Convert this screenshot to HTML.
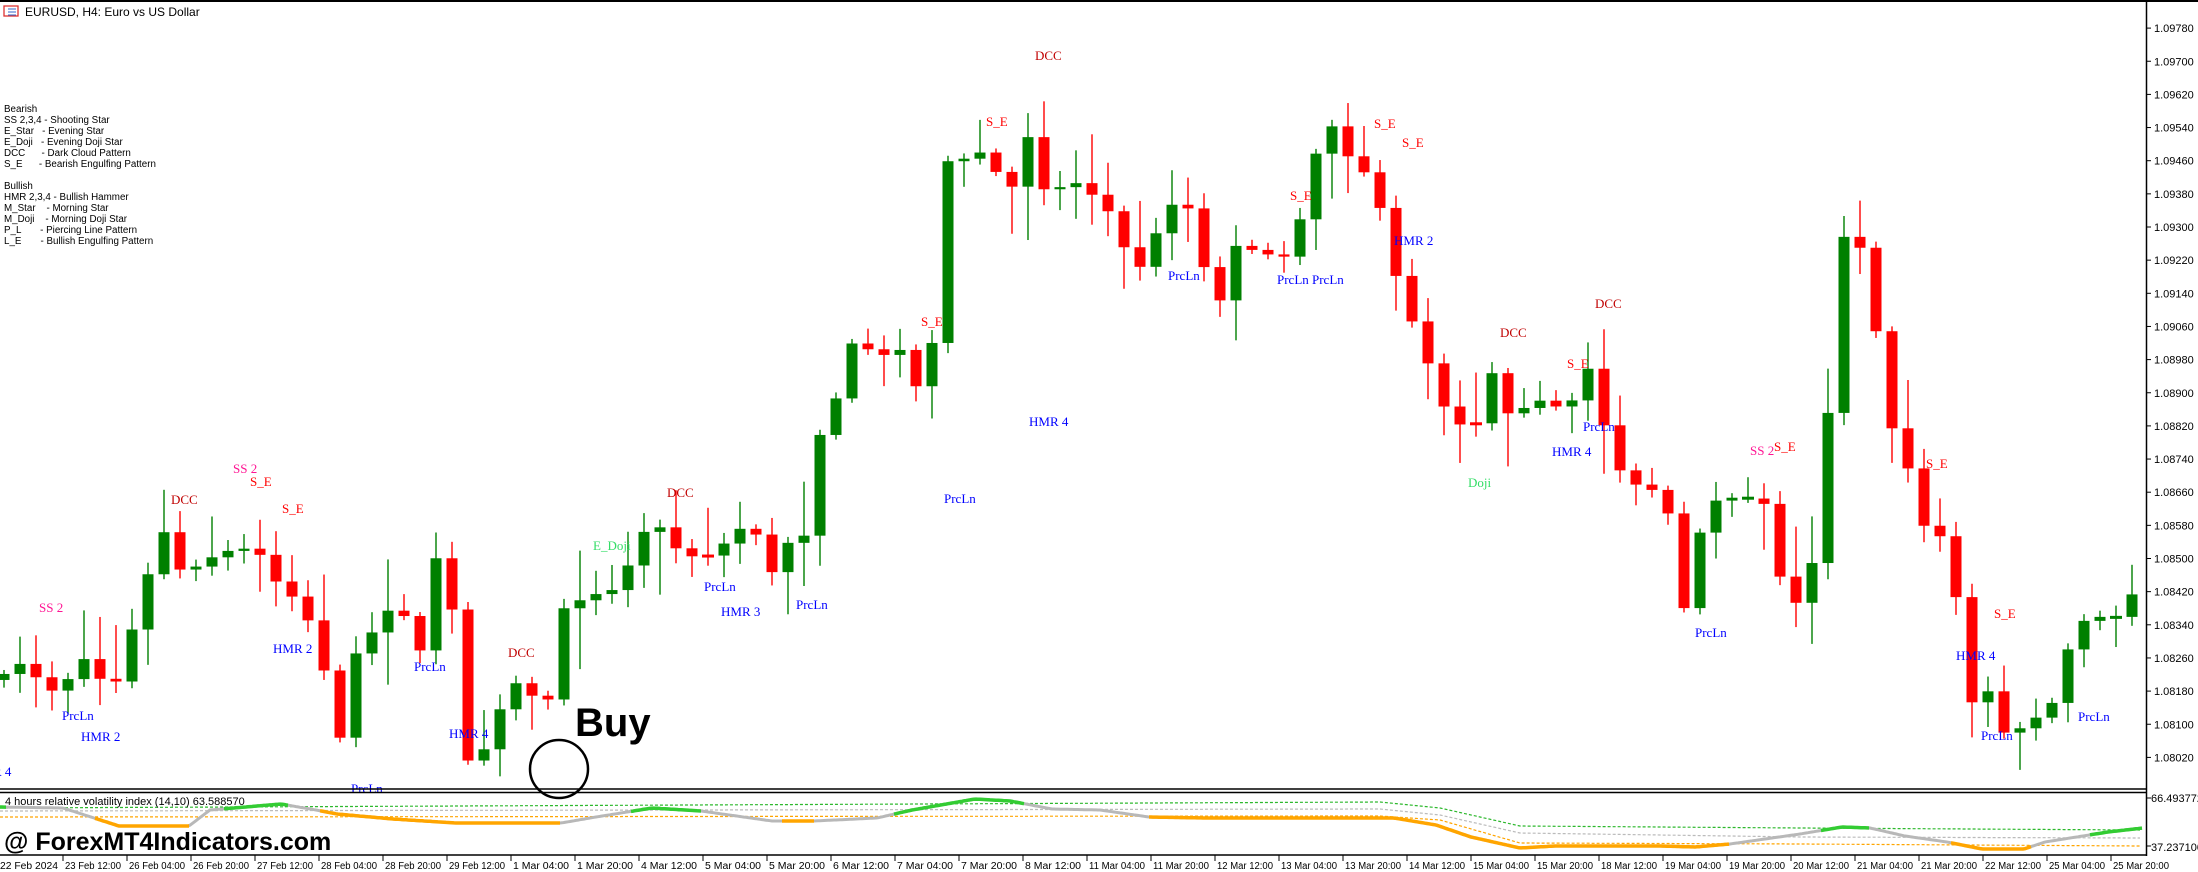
<!DOCTYPE html>
<html><head><meta charset="utf-8"><style>
html,body{margin:0;padding:0;background:#fff;width:2198px;height:872px;overflow:hidden}
svg{display:block}
text{font-family:"Liberation Sans",sans-serif}
#ann text{font-family:"Liberation Serif",serif}
</style></head><body>
<svg id="s" width="2198" height="872" xmlns="http://www.w3.org/2000/svg">
<rect width="2198" height="872" fill="#fff"/>
<line x1="0" y1="1" x2="2198" y2="1" stroke="#000" stroke-width="2"/>
<g id="cand"></g>
<g id="sub"></g>
<g id="ann" font-size="13"></g>
<line x1="2146.5" y1="0" x2="2146.5" y2="856" stroke="#000" stroke-width="1.5"/>
<line x1="0" y1="789" x2="2147" y2="789" stroke="#000" stroke-width="1.5"/>
<line x1="0" y1="792.5" x2="2147" y2="792.5" stroke="#000" stroke-width="1.5"/>
<line x1="0" y1="855" x2="2147" y2="855" stroke="#000" stroke-width="1.5"/>
<g id="axis" fill="#000"></g>
<rect x="4" y="6" width="14" height="10" fill="#fff" stroke="#d33" stroke-width="1.3"/>
<line x1="8" y1="9" x2="16" y2="9" stroke="#36c"/><line x1="8" y1="12" x2="16" y2="12" stroke="#36c"/><line x1="8" y1="15" x2="16" y2="15" stroke="#36c"/>
<text x="25" y="16" font-size="12">EURUSD, H4:  Euro vs US Dollar</text>
<g font-size="9.8">
<text x="4" y="112">Bearish</text>
<text x="4" y="123">SS 2,3,4 - Shooting Star</text>
<text x="4" y="134" xml:space="preserve">E_Star   - Evening Star</text>
<text x="4" y="145" xml:space="preserve">E_Doji   - Evening Doji Star</text>
<text x="4" y="156" xml:space="preserve">DCC      - Dark Cloud Pattern</text>
<text x="4" y="167" xml:space="preserve">S_E      - Bearish Engulfing Pattern</text>
<text x="4" y="189">Bullish</text>
<text x="4" y="200">HMR 2,3,4 - Bullish Hammer</text>
<text x="4" y="211" xml:space="preserve">M_Star    - Morning Star</text>
<text x="4" y="222" xml:space="preserve">M_Doji    - Morning Doji Star</text>
<text x="4" y="233" xml:space="preserve">P_L       - Piercing Line Pattern</text>
<text x="4" y="244" xml:space="preserve">L_E       - Bullish Engulfing Pattern</text>
</g>
<text x="5" y="805" font-size="11">4 hours relative volatility index (14,10) 63.588570</text>
<circle cx="559" cy="769" r="29" fill="none" stroke="#000" stroke-width="2.5"/>
<text x="575" y="736" font-size="40" font-weight="bold">Buy</text>
<text x="4" y="850" font-size="25" font-weight="bold">@ ForexMT4Indicators.com</text>
</svg>
<script>
(function(){
var NS="http://www.w3.org/2000/svg";
function el(p,t,a,txt){var e=document.createElementNS(NS,t);for(var k in a)e.setAttribute(k,a[k]);if(txt!==undefined)e.textContent=txt;p.appendChild(e);return e;}
var S=1.402;
var W=[[0,485],[10,470],[40,495],[60,470],[80,495],[100,430],[115,375],[130,410],[150,398],[170,390],[185,395],[200,420],[215,430],[230,470],[240,545],[250,470],[260,460],[275,435],[290,440],[300,465],[310,398],[320,400],[330,545],[345,535],[355,510],[365,485],[378,495],[390,505],[400,435],[410,430],[420,425],[440,420],[460,378],[470,375],[480,390],[500,400],[520,385],[535,370],[550,410],[560,380],[570,415],[580,320],[595,290],[605,245],[615,245],[625,255],[640,250],[650,248],[660,330],[672,115],[685,115],[695,108],[705,110],[720,145],[730,80],[740,135],[750,135],[770,130],[790,150],[810,195],[820,180],[830,150],[845,140],[860,195],[870,215],[880,175],[900,180],[915,185],[930,150],[945,80],[960,110],[980,130],[1000,215],[1015,245],[1025,285],[1040,300],[1050,320],[1060,255],[1075,295],[1090,290],[1100,285],[1110,290],[1120,290],[1130,255],[1140,285],[1150,330],[1165,345],[1180,350],[1195,375],[1200,440],[1210,385],[1225,355],[1245,355],[1260,360],[1275,440],[1290,415],[1300,360],[1310,190],[1320,150],[1335,210],[1345,295],[1360,330],[1370,375],[1380,375],[1390,395],[1400,455],[1410,525],[1420,485],[1430,525],[1440,520],[1455,510],[1465,500],[1480,445],[1495,440],[1510,440],[1520,425],[1530,410],[1545,400]];
function interp(P,x){if(x<=P[0][0])return P[0][1];for(var i=1;i<P.length;i++){if(x<=P[i][0]){var a=P[i-1],b=P[i];return a[1]+(b[1]-a[1])*(x-a[0])/(b[0]-a[0]);}}return P[P.length-1][1];}
var seed=7;function rnd(){seed=(seed*16807)%2147483647;return seed/2147483647;}
var g=document.getElementById('cand');
var prev=interp(W,0)*S;
for(var i=0;i<134;i++){var x=4+16*i;var c=interp(W,x/S)*S;var o=prev;prev=c;
 var tp=Math.min(o,c),bt=Math.max(o,c);var hi=tp-4-rnd()*rnd()*60,lo=bt+4+rnd()*rnd()*60;
 var col=(c<o-1.5)?'#008000':(c>o+1.5?'#ff0000':(rnd()>0.5?'#008000':'#ff0000'));
 el(g,'line',{x1:x,y1:hi,x2:x,y2:lo,stroke:col,'stroke-width':1.4});
 if(bt-tp<2){el(g,'rect',{x:x-6,y:tp-1,width:12,height:3,fill:col});}
 else el(g,'rect',{x:x-5.5,y:tp,width:11,height:bt-tp,fill:col});
}
var ax=document.getElementById('axis');
for(var k=0;k<=22;k++){var p=1.0802+k*0.0008;var y=757.4-k*33.15;el(ax,'line',{x1:2146,y1:y,x2:2151,y2:y,stroke:'#000'});el(ax,'text',{x:2154,y:y+4,'font-size':11},p.toFixed(5));}
el(ax,'text',{x:2151,y:802,'font-size':11},'66.493772');el(ax,'text',{x:2151,y:851,'font-size':11},'37.237100');
el(ax,'line',{x1:2146,y1:798,x2:2151,y2:798,stroke:'#000'});el(ax,'line',{x1:2146,y1:846,x2:2151,y2:846,stroke:'#000'});
var labs=["22 Feb 2024","23 Feb 12:00","26 Feb 04:00","26 Feb 20:00","27 Feb 12:00","28 Feb 04:00","28 Feb 20:00","29 Feb 12:00","1 Mar 04:00","1 Mar 20:00","4 Mar 12:00","5 Mar 04:00","5 Mar 20:00","6 Mar 12:00","7 Mar 04:00","7 Mar 20:00","8 Mar 12:00","11 Mar 04:00","11 Mar 20:00","12 Mar 12:00","13 Mar 04:00","13 Mar 20:00","14 Mar 12:00","15 Mar 04:00","15 Mar 20:00","18 Mar 12:00","19 Mar 04:00","19 Mar 20:00","20 Mar 12:00","21 Mar 04:00","21 Mar 20:00","22 Mar 12:00","25 Mar 04:00","25 Mar 20:00"];
for(var k=0;k<labs.length;k++){var x=-1+64*k;if(k>0)el(ax,'line',{x1:x,y1:855,x2:x,y2:861,stroke:'#000'});el(ax,'text',{x:k==0?0:x+2,y:869,'font-size':10,'textLength':k==0?58:56,'lengthAdjust':'spacingAndGlyphs'},labs[k]);}
var sg=document.getElementById('sub');
function band(P,col){var d='';for(var x=0;x<=2140;x+=4)d+=(x?'L':'M')+x+' '+interp(P,x).toFixed(1);el(sg,'path',{d:d,fill:'none',stroke:col,'stroke-width':1.2,'stroke-dasharray':'3,2'});}
band([[0,808],[1380,802],[1440,808],[1520,826],[1800,828],[2140,830]],'#2db82d');
band([[0,811],[1380,809],[1440,815],[1520,833],[1800,837],[2140,838]],'#bbb');
band([[0,817],[1380,816],[1440,820],[1520,843],[1800,844],[2140,846]],'#ffa500');
var M=[[0,807],[63,808],[119,826],[189,826],[210,810],[281,804],[316,810],[337,814],[393,819],[456,823],[561,823],[596,817],[652,808],[701,811],[772,821],[814,821],[877,818],[912,810],[975,799],[1010,801],[1052,809],[1100,810],[1149,817],[1205,818],[1394,818],[1436,825],[1471,837],[1520,848],[1555,846],[1660,846],[1695,847],[1730,844],[1765,839],[1800,834],[1842,827],[1870,828],[1905,836],[1947,842],[1982,849],[2024,849],[2045,842],[2108,832],[2143,828]];
function seg(a,b,col,w){var d='';for(var x=a;x<=b;x+=2)d+=(x==a?'M':'L')+x+' '+interp(M,x).toFixed(1);el(sg,'path',{d:d,fill:'none',stroke:col,'stroke-width':w});}
seg(0,2142,'#b8b8b8',3);
[[95,190],[320,560],[782,814],[1149,1730],[1951,2031]].forEach(function(r){seg(r[0],r[1],'#ffa500',3.5);});
[[0,6],[224,288],[631,701],[894,1024],[1821,1870],[2090,2142]].forEach(function(r){seg(r[0],r[1],'#33cc33',3.5);});
var an=document.getElementById('ann');
var A=[["DCC",132,356,"#c00000"],["SS 2",176,334,"#ff1493"],["S_E",188,343,"#ff0000"],["S_E",211,362,"#ff0000"],["SS 2",38,433,"#ff1493"],["PrcLn",54,510,"#0000ff"],["HMR 2",68,525,"#0000ff"],["HMR 2",205,462,"#0000ff"],["HMR 4",330,523,"#0000ff"],["PrcLn",305,475,"#0000ff"],["DCC",372,465,"#c00000"],["DCC",486,351,"#c00000"],["DCC",748,39,"#c00000"],["DCC",1080,237,"#c00000"],["DCC",1148,216,"#c00000"],["E_Doji",433,389,"#33dd66"],["PrcLn",512,418,"#0000ff"],["PrcLn",578,431,"#0000ff"],["PrcLn",683,355,"#0000ff"],["PrcLn",843,196,"#0000ff"],["PrcLn",921,199,"#0000ff"],["PrcLn",946,199,"#0000ff"],["PrcLn",1139,304,"#0000ff"],["PrcLn",1219,451,"#0000ff"],["PrcLn",1492,511,"#0000ff"],["PrcLn",1423,524,"#0000ff"],["HMR 3",524,436,"#0000ff"],["HMR 4",1117,322,"#0000ff"],["HMR 4",1405,467,"#0000ff"],["HMR 2",1004,171,"#0000ff"],["HMR 4",744,300,"#0000ff"],["S_E",713,86,"#ff0000"],["S_E",667,229,"#ff0000"],["S_E",990,88,"#ff0000"],["S_E",1010,101,"#ff0000"],["S_E",930,139,"#ff0000"],["S_E",1128,259,"#ff0000"],["S_E",1275,318,"#ff0000"],["S_E",1384,330,"#ff0000"],["S_E",1432,437,"#ff0000"],["SS 2",1258,321,"#ff1493"],["Doji",1057,344,"#33dd66"],["R 4",5,550,"#0000ff"],["PrcLn",260,562,"#0000ff"]];
A.forEach(function(a){el(an,'text',{x:(a[1]*S-14).toFixed(0),y:(a[2]*S+5).toFixed(0),fill:a[3]},a[0]);});
})();
</script>
</body></html>
